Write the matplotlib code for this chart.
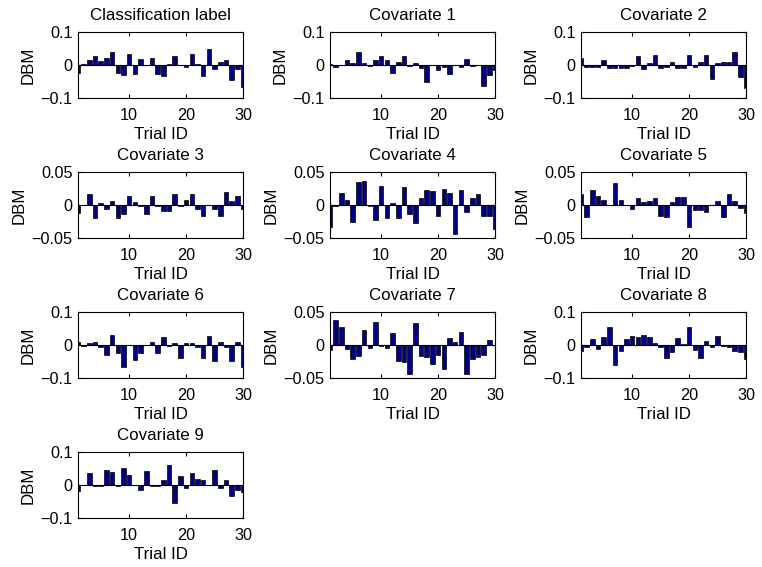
import matplotlib
matplotlib.use("Agg")
import matplotlib.pyplot as plt
import numpy as np

plt.rcParams['font.family'] = ['Liberation Sans', 'DejaVu Sans']

trials = np.arange(1, 31)

titles = ["Classification label", "Covariate 1", "Covariate 2", "Covariate 3",
          "Covariate 4", "Covariate 5", "Covariate 6", "Covariate 7",
          "Covariate 8", "Covariate 9"]

label_dbm = [-0.023, 0.002, 0.015, 0.028, 0.013, 0.02, 0.038, -0.023, -0.031, 0.032,
             -0.027, 0.017, 0.0, 0.02, -0.028, -0.033, 0.003, 0.028, 0.0, -0.007,
             0.033, 0.003, -0.033, 0.049, -0.012, 0.008, 0.015, -0.046, -0.012, -0.067]
cov1 = [0.003, -0.005, 0.0, 0.016, 0.007, 0.039, 0.007, -0.002, 0.016, 0.028,
        0.016, -0.023, 0.01, 0.026, -0.004, 0.007, -0.01, -0.05, 0.0, -0.015,
        -0.005, -0.028, 0.0, -0.006, 0.018, -0.002, 0.0, -0.065, -0.03, -0.015]
cov2 = [0.02, -0.005, -0.007, -0.005, 0.015, -0.01, -0.01, -0.01, -0.01, -0.002,
        0.026, -0.013, 0.007, 0.029, -0.008, -0.005, 0.008, -0.008, -0.01, 0.031,
        -0.007, 0.01, 0.031, -0.042, 0.005, 0.009, 0.009, 0.04, -0.035, -0.07]
cov3 = [-0.012, 0.0, 0.017, -0.02, 0.003, -0.006, 0.006, -0.02, -0.014, 0.014,
        0.004, -0.001, -0.014, 0.014, -0.002, -0.009, -0.009, 0.016, -0.001, 0.008,
        0.016, -0.006, -0.016, 0.0, -0.006, -0.017, 0.02, 0.006, 0.014, -0.006]
cov4 = [-0.033, -0.001, 0.018, 0.007, -0.026, 0.035, 0.037, -0.002, -0.022, 0.029,
        -0.02, 0.003, -0.02, 0.027, -0.013, -0.028, 0.01, 0.022, 0.021, -0.017,
        0.025, 0.018, -0.044, 0.022, -0.01, 0.01, 0.017, -0.016, -0.017, -0.036]
cov5 = [0.017, -0.018, 0.022, 0.014, 0.008, 0.0, 0.033, 0.008, 0.0, -0.006,
        0.011, 0.004, 0.006, 0.01, -0.016, -0.018, 0.004, 0.012, 0.012, -0.033,
        -0.008, -0.008, -0.011, 0.0, 0.006, -0.018, 0.017, 0.006, -0.004, -0.012]
cov6 = [0.01, -0.004, 0.007, 0.01, -0.006, -0.031, 0.03, -0.023, -0.066, 0.0,
        -0.046, -0.023, 0.0, 0.01, -0.023, 0.025, -0.004, 0.007, -0.04, 0.007,
        0.007, -0.006, -0.038, 0.027, -0.048, 0.01, -0.006, -0.048, 0.008, -0.068]
cov7 = [-0.008, 0.038, 0.028, -0.006, -0.021, -0.016, 0.022, -0.004, 0.035, -0.002,
        -0.004, 0.018, -0.024, -0.026, -0.044, 0.034, -0.016, -0.018, -0.029, -0.015,
        -0.036, 0.011, 0.005, 0.019, -0.044, -0.021, -0.018, -0.015, 0.007, 0.0]
cov8 = [-0.017, -0.007, 0.018, -0.012, 0.023, 0.054, -0.061, -0.019, 0.018, 0.027,
        0.023, 0.03, 0.023, 0.005, -0.007, -0.038, -0.022, 0.02, 0.002, 0.056,
        -0.014, -0.04, 0.011, -0.007, 0.027, -0.003, -0.007, -0.017, -0.022, -0.043]
cov9 = [-0.017, 0.0, 0.036, -0.003, -0.003, 0.045, 0.038, -0.003, 0.052, 0.03,
        0.0, -0.014, 0.041, -0.002, -0.002, 0.015, 0.06, -0.055, 0.026, -0.008,
        0.036, 0.017, 0.015, 0.0, 0.045, -0.01, 0.015, -0.034, -0.014, -0.02]

series = [label_dbm, cov1, cov2, cov3, cov4, cov5, cov6, cov7, cov8, cov9]
ylims = [0.1, 0.1, 0.1, 0.05, 0.05, 0.05, 0.1, 0.05, 0.1, 0.1]

W, H = 762, 567
fig = plt.figure(figsize=(W / 100, H / 100), dpi=100)

col_left = [78, 330, 581]
row_top = [32, 172, 312, 452]
aw, ah = 165, 66

for i, (vals, title, lim) in enumerate(zip(series, titles, ylims)):
    r, c = divmod(i, 3)
    ax = fig.add_axes([col_left[c] / W, 1 - (row_top[r] + ah) / H, aw / W, ah / H])
    ax.bar(trials, vals, width=0.8, color='#000080', edgecolor='black', linewidth=0.5)
    ax.axhline(0, color='black', linewidth=0.8)
    ax.set_xlim(1, 30)
    ax.set_ylim(-lim, lim)
    ax.set_xticks([10, 20, 30])
    ax.set_yticks([-lim, 0, lim])
    ax.set_yticklabels(['\u2212%g' % lim, '0', '%g' % lim])
    ax.tick_params(direction='in', top=True, right=True, labelsize=11.7, length=3)
    ax.tick_params(axis='x', pad=7)
    ax.tick_params(axis='y', pad=4)
    ax.set_title(title, fontsize=12.2, pad=9)
    ax.set_xlabel('Trial ID', fontsize=12.2, labelpad=3)
    ax.set_ylabel('DBM', fontsize=12.2, labelpad=3.5)

fig.savefig('out.png', dpi=100)
